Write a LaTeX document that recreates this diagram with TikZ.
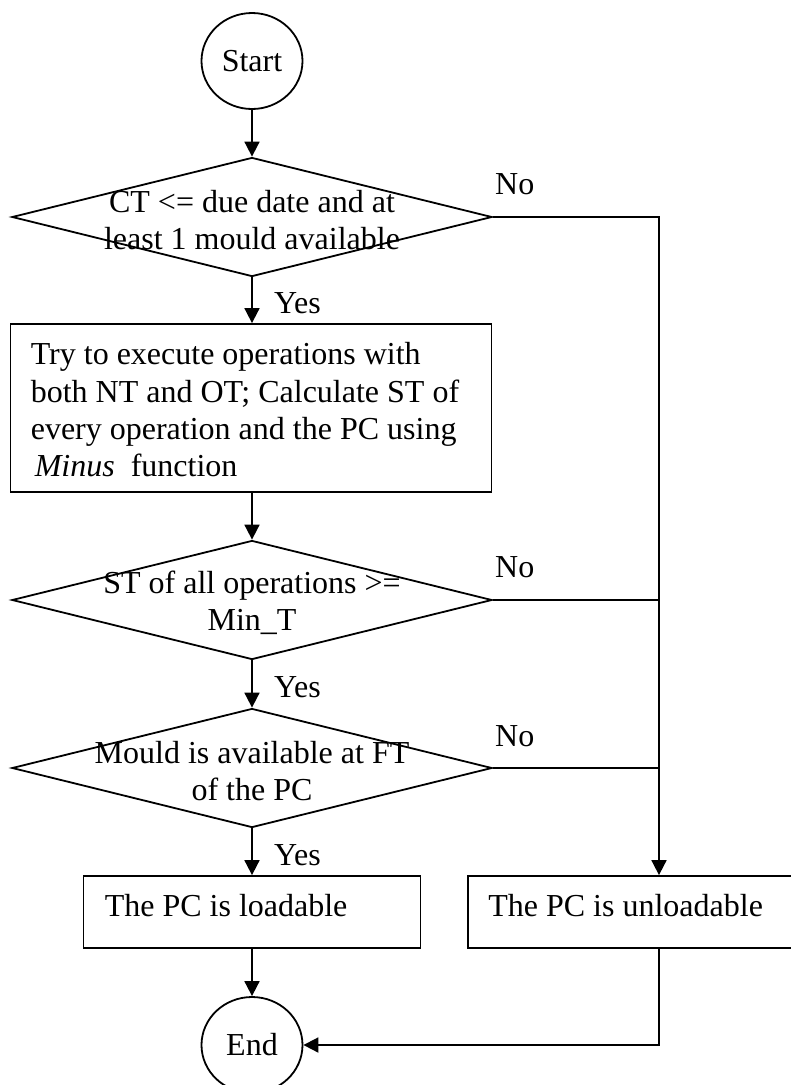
\documentclass[tikz,border=0pt]{standalone}
\usepackage{fontspec}
\setmainfont{Liberation Serif}
\usetikzlibrary{shapes.geometric,arrows.meta}

\begin{document}
\begin{tikzpicture}[x=1pt,y=-1pt,
  every node/.style={font=\fontsize{32}{36.5}\selectfont},
  flow/.style={line width=1.8pt},
  arr/.style={flow,-{Triangle[width=15pt,length=15pt]}},
  terminal/.style={draw,line width=1.8pt,ellipse,minimum width=101pt,minimum height=96pt,inner sep=0pt},
  decision/.style={draw,line width=1.8pt,diamond,minimum width=480pt,minimum height=119pt,inner sep=0pt},
  process/.style={draw,line width=1.8pt,rectangle,inner sep=0pt},
  caption/.style={align=center,inner sep=0pt,yshift=-3pt},
  boxtext/.style={align=left,inner sep=0pt},
  tag/.style={anchor=base west,inner sep=0pt}]

\clip (0,0) rectangle (791,1085);

% main column
\node[terminal] (start) at (252,61) {Start};
\node[decision] (d1) at (252,217) {};
\node[caption] (t1) at (d1) {CT <= due date and at\\least 1 mould available};

\node[process,minimum width=481pt,minimum height=168pt] (work) at (251,408) {};
\node[boxtext,anchor=west,font=\fontsize{32}{37.3}\selectfont] (worktext) at ([xshift=21pt,yshift=-2pt]work.west)
  {Try to execute operations with\\both NT and OT; Calculate ST of\\every operation and the PC using\\\hspace{4pt}\textit{Minus}\hspace{8pt} function};

\node[decision] (d2) at (252,600) {};
\node[caption] (t2) at (d2) {ST of all operations >=\\Min\_T};

\node[decision] (d3) at (252,768) {};
\node[caption] (t3) at (d3) {Mould is available at FT\\of the PC};

\node[process,minimum width=337pt,minimum height=72pt] (load) at (252,912) {};
\node[boxtext,anchor=base west] (loadtext) at ([xshift=22pt,yshift=-4pt]load.west) {The PC is loadable};
\node[process,minimum width=382pt,minimum height=72pt] (unload) at (659,912) {};
\node[boxtext,anchor=base west] (unloadtext) at ([xshift=21pt,yshift=-4pt]unload.west) {The PC is unloadable};

\node[terminal] (end) at (252,1045) {End};

% connectors
\draw[arr] (start) -- (d1);
\draw[arr] (d1) -- (d1.south |- work.north);
\draw[arr] (d1.south |- work.south) -- (d2);
\draw[arr] (d2) -- (d3);
\draw[arr] (d3) -- (load);
\draw[arr] (load) -- (end);
\draw[arr] (d1.east) -| (unload.north);
\draw[flow] (d2.east) -- (d2.east -| unload.north);
\draw[flow] (d3.east) -- (d3.east -| unload.north);
\draw[arr] (unload.south) |- (end.east);

% branch labels
\node[tag] (yes1) at (274,313) {Yes};
\node[tag] (yes2) at (274,697) {Yes};
\node[tag] (yes3) at (274,865) {Yes};
\node[tag] (no1) at (495,194) {No};
\node[tag] (no2) at (495,577) {No};
\node[tag] (no3) at (495,746) {No};
\end{tikzpicture}
\end{document}
